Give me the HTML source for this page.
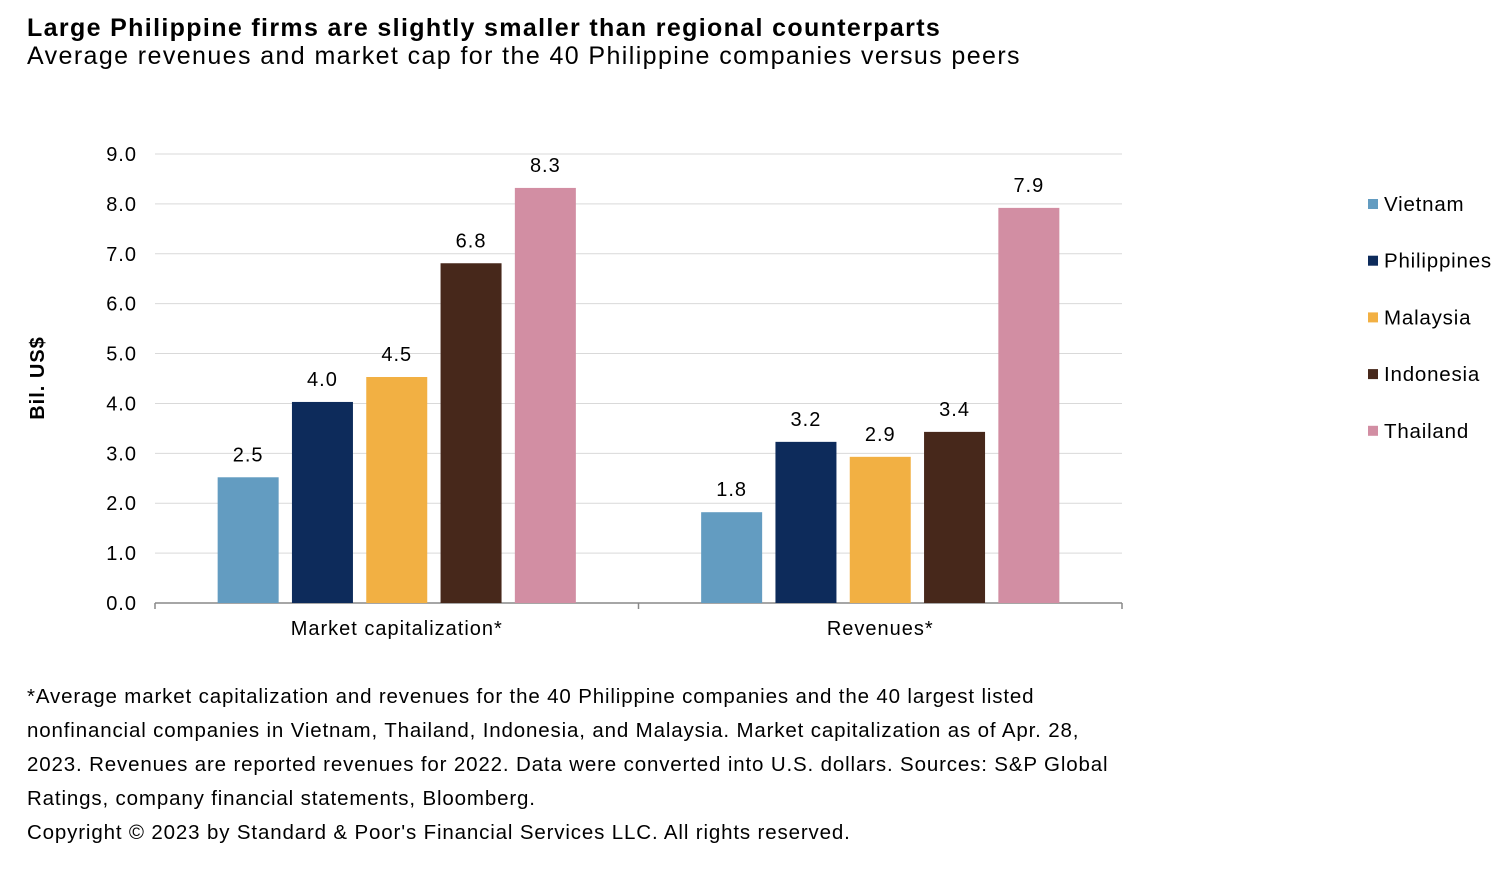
<!DOCTYPE html>
<html><head><meta charset="utf-8"><style>
body{margin:0;background:#fff;width:1510px;height:874px;overflow:hidden;font-family:"Liberation Sans",Arial,sans-serif;color:#000}
#t{position:absolute;left:27px;top:13px;font-size:25px;font-weight:bold;line-height:30px;letter-spacing:1.35px;white-space:nowrap}
#st{position:absolute;left:27px;top:41px;font-size:25px;line-height:30px;letter-spacing:1.4px;white-space:nowrap}
#fn{position:absolute;left:27px;top:680px;font-size:20.5px;line-height:34px;width:1095px;letter-spacing:0.85px}
svg{position:absolute;left:0;top:0}
svg text{letter-spacing:1px}
</style></head><body>
<div id="t">Large Philippine firms are slightly smaller than regional counterparts</div>
<div id="st">Average revenues and market cap for the 40 Philippine companies versus peers</div>
<svg id="c" width="1510" height="874"></svg>
<div id="fn">*Average market capitalization and revenues for the 40 Philippine companies and the 40 largest listed nonfinancial companies in Vietnam, Thailand, Indonesia, and Malaysia. Market capitalization as of Apr. 28, 2023. Revenues are reported revenues for 2022. Data were converted into U.S. dollars. Sources: S&amp;P Global Ratings, company financial statements, Bloomberg.<br>Copyright © 2023 by Standard &amp; Poor's Financial Services LLC. All rights reserved.</div>
<script>
const categories=["Market capitalization*","Revenues*"];
const seriesNames=["Vietnam","Philippines","Malaysia","Indonesia","Thailand"];
const colors=["#639cc1","#0d2b5b","#f2b043","#47281b","#d28ea3"];
const vietnam=[2.52,1.82];
const philippines=[4.03,3.23];
const malaysia=[4.53,2.93];
const indonesia=[6.81,3.43];
const thailand=[8.32,7.92];
const series=[vietnam,philippines,malaysia,indonesia,thailand];
const yTicks=[0,1,2,3,4,5,6,7,8,9];
const NS="http://www.w3.org/2000/svg";
const svg=document.getElementById('c');
const X0=155,X1=1122,Y0=603,Y9=154;
const y=v=>Y0-(v/9)*(Y0-Y9);
const gw=(X1-X0)/categories.length;
function mk(t,a,p){const e=document.createElementNS(NS,t);for(const k in a)e.setAttribute(k,a[k]);(p||svg).appendChild(e);return e;}
yTicks.forEach(v=>{
 if(v>0){const g=mk('line',{x1:X0,x2:X1,y1:y(v),y2:y(v),stroke:'#d9d9d9','stroke-width':1});
 
 }
 const t=mk('text',{x:137,y:y(v)+7,'text-anchor':'end','font-size':20});t.textContent=v.toFixed(1);
 
 
});
const yt=mk('text',{transform:'translate(44,378) rotate(-90)','text-anchor':'middle','font-size':20,'font-weight':'bold'});yt.textContent='Bil. US$';


const ax=mk('line',{x1:X0,x2:X1,y1:Y0,y2:Y0,stroke:'#888','stroke-width':1.5});


[X0,X0+gw,X1].forEach(x=>{const tk=mk('line',{x1:x,x2:x,y1:Y0,y2:Y0+6,stroke:'#888','stroke-width':1.5});
 
 });
const bw=61,pitch=74.3;
categories.forEach((c,i)=>{
 const gx=X0+i*gw;
 const lb=mk('text',{x:gx+gw/2,y:635,'text-anchor':'middle','font-size':20});lb.textContent=c;
 
 
 const start=gx+gw/2-(pitch*4+bw)/2;
 series.forEach((s,j)=>{
  const bx=start+j*pitch;
  const r=mk('rect',{x:bx,y:y(s[i]),width:bw,height:Y0-y(s[i]),fill:colors[j]});
  
  
  const vl=mk('text',{x:bx+bw/2,y:y(s[i])-16,'text-anchor':'middle','font-size':20});vl.textContent=s[i].toFixed(1);
  
  
 });
});
seriesNames.forEach((n,j)=>{
 const ly=204+j*56.7;
 const sq=mk('rect',{x:1368,y:ly-5,width:10,height:10,fill:colors[j]});
 
 
 const t=mk('text',{x:1384,y:ly+7,'font-size':20.5,style:'letter-spacing:0.8px'});t.textContent=n;
 
 
});
</script>
</body></html>
